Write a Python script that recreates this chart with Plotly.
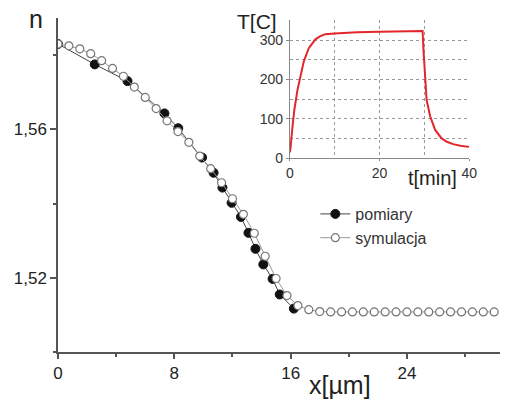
import plotly.graph_objects as go

# Refractive index profile n(x)
x_meas = [0.0, 2.53, 4.78, 7.32, 8.27, 9.91, 10.7, 11.31, 11.94, 12.58, 13.1,
          13.58, 14.12, 14.76, 15.25, 16.22]
n_meas = [1.5830, 1.5775, 1.5730, 1.5643, 1.5603, 1.5524, 1.5483, 1.5443, 1.5402,
          1.5364, 1.5321, 1.5278, 1.5236, 1.5197, 1.5155, 1.5117]

x_sim = [0.0, 0.75, 1.5, 2.25, 3.0, 3.75, 4.5, 5.25, 6.0, 6.75, 7.5, 8.25, 9.0,
         9.75, 10.5, 11.25, 12.0, 12.75, 13.5, 14.25, 15.0, 15.75, 16.5, 17.25,
         18.0, 18.75, 19.5, 20.25, 21.0, 21.75, 22.5, 23.25, 24.0, 24.75, 25.5,
         26.25, 27.0, 27.75, 28.5, 29.25, 30.0]
n_sim = [1.5830, 1.5825, 1.5817, 1.5804, 1.5785, 1.5764, 1.5743, 1.5714, 1.5686,
         1.5656, 1.5623, 1.5594, 1.5565, 1.5528, 1.5494, 1.5456, 1.5413, 1.5371,
         1.5320, 1.5258, 1.5198, 1.5152, 1.5125, 1.5114, 1.5109, 1.5108, 1.5108,
         1.5108, 1.5108, 1.5108, 1.5108, 1.5108, 1.5108, 1.5108, 1.5108, 1.5108,
         1.5108, 1.5108, 1.5108, 1.5108, 1.5108]

# Temperature program T(t)
t_min = [0, 0.15, 0.6, 1.0, 1.7, 2.4, 3.1, 4.2, 5.0, 5.7, 6.8, 7.9, 10, 15, 20,
         25, 29.6, 29.8, 30.2, 30.5, 31.3, 32.4, 33.8, 35, 36.4, 38, 40]
T_c = [15, 25, 80, 122, 173, 211, 245, 279, 293, 302, 310, 315, 317, 320, 321,
       322, 323, 275, 199, 148, 106, 72, 51, 42, 36, 32, 29]

W, H = 508, 401
L, R, T, B = 58, 508, 18, 352


def px(xp):
    return (xp - L) / (R - L)


def py(yp):
    return (B - yp) / (B - T)


FONT = "Liberation Sans, Arial, sans-serif"

fig = go.Figure()

fig.add_trace(go.Scatter(
    x=x_meas, y=n_meas, name="pomiary", mode="lines+markers",
    line=dict(color="#444444", width=1),
    marker=dict(symbol="circle", size=9, color="#111111",
                line=dict(color="#111111", width=1)),
))
fig.add_trace(go.Scatter(
    x=x_sim, y=n_sim, name="symulacja", mode="lines+markers",
    line=dict(color="#999999", width=1),
    marker=dict(symbol="circle", size=8, color="white",
                line=dict(color="#777777", width=1.2)),
))
fig.add_trace(go.Scatter(
    x=t_min, y=T_c, mode="lines", showlegend=False,
    line=dict(color="#e3262b", width=2),
    xaxis="x2", yaxis="y2",
))

axis_common = dict(showline=True, linecolor="#555555", linewidth=1.5,
                   ticks="outside", tickcolor="#555555", tickwidth=1.5,
                   showgrid=False, zeroline=False)

fig.update_layout(
    width=W, height=H,
    margin=dict(l=L, r=W - R, t=T, b=H - B),
    paper_bgcolor="white", plot_bgcolor="white",
    separators=", ",
    font=dict(family=FONT, color="#222222"),
    xaxis=dict(range=[0, 30.4], tickmode="linear", tick0=0, dtick=8,
               ticklen=5, tickfont=dict(size=17),
               minor=dict(dtick=4, ticks="outside", ticklen=3,
                          tickcolor="#555555", tickwidth=1.5),
               **axis_common),
    yaxis=dict(range=[1.50, 1.59], tickmode="linear", tick0=1.52, dtick=0.04,
               tickformat=".2f", ticklen=6, tickfont=dict(size=17),
               minor=dict(dtick=0.02, tick0=1.50, ticks="outside", ticklen=3,
                          tickcolor="#555555", tickwidth=1.5),
               **axis_common),
    xaxis2=dict(domain=[px(294), px(476.7)], anchor="y2", range=[0, 40],
                tickmode="array", tickvals=[0, 20, 40], ticks="outside",
                ticklen=2, tickcolor="#888888", showline=True,
                linecolor="#888888", linewidth=1, showgrid=False,
                zeroline=False, tickfont=dict(size=14, color="#333333"),
                minor=dict(tickmode="array", tickvals=[10, 20, 30],
                           showgrid=True, gridcolor="#999999",
                           griddash="dot", gridwidth=1)),
    yaxis2=dict(domain=[py(158.3), py(20.4)], anchor="x2", range=[0, 350],
                tickmode="array", tickvals=[0, 100, 200, 300], ticks="outside",
                ticklen=3, tickcolor="#888888", showline=True,
                linecolor="#888888", linewidth=1, showgrid=False,
                zeroline=False, tickfont=dict(size=14, color="#333333"),
                minor=dict(tickmode="array",
                           tickvals=[50, 100, 150, 200, 250, 300],
                           showgrid=True, gridcolor="#999999",
                           griddash="dot", gridwidth=1)),
    legend=dict(x=px(320), y=py(197), xanchor="left", yanchor="top",
                bgcolor="rgba(0,0,0,0)", borderwidth=0,
                font=dict(size=16, color="#333333"), tracegroupgap=0),
    showlegend=True,
)

annots = [
    ("n", 36, 19, 25),
    ("x[\u00b5m]", 345, 385, 25),
    ("T[C]", 261, 22, 21),
    ("t[min]", 439, 178, 20),
]
for text, xp, yp, size in annots:
    fig.add_annotation(text=text, x=px(xp), y=py(yp), xref="paper", yref="paper",
                       showarrow=False, xanchor="center", yanchor="middle",
                       font=dict(size=size, color="#222222", family=FONT))

fig.write_html("out.html")
